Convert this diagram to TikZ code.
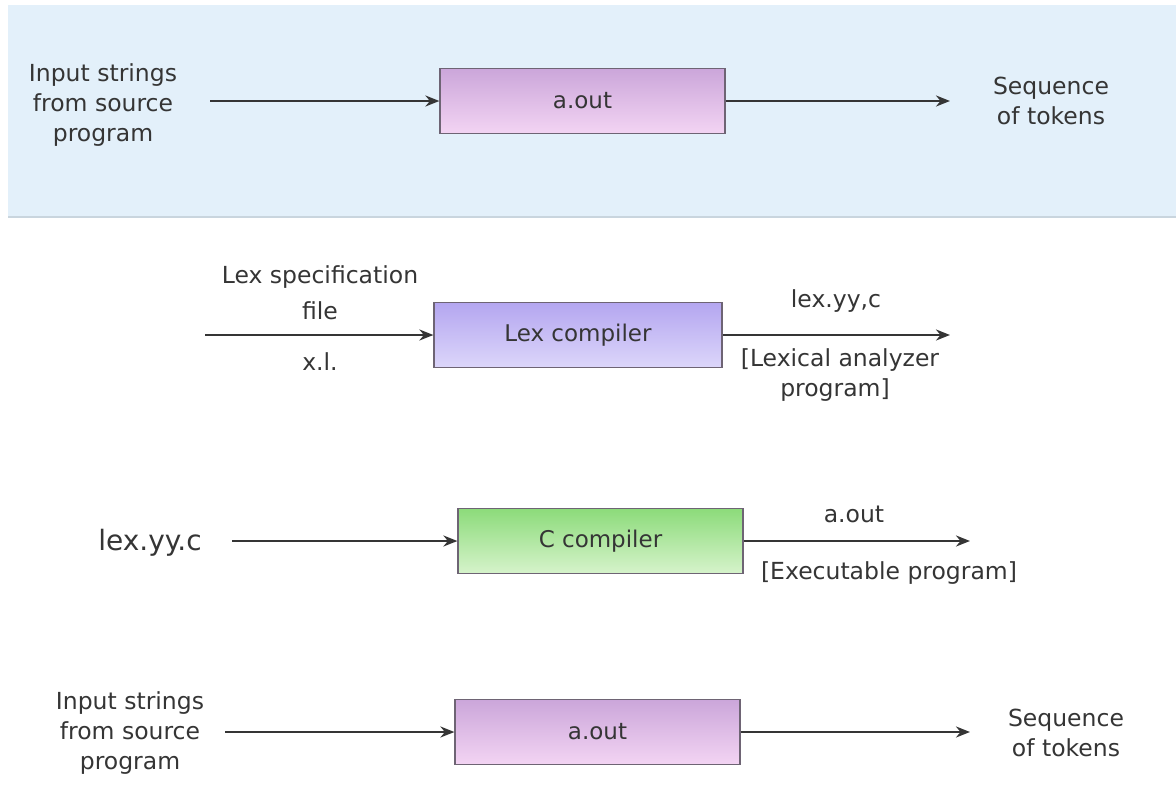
\documentclass[tikz,border=0pt]{standalone}
\usepackage{fontspec}
\setmainfont{DejaVu Sans}
\usetikzlibrary{arrows.meta}
\definecolor{band}{HTML}{E3F0FA}
\definecolor{bandline}{HTML}{C9D5DE}
\definecolor{txt}{HTML}{353535}
\definecolor{boxline}{HTML}{6E6474}
\definecolor{pinktop}{HTML}{CBA6DA}
\definecolor{pinkbot}{HTML}{F3D4F3}
\definecolor{lavtop}{HTML}{B4A6F0}
\definecolor{lavbot}{HTML}{DCD6FA}
\definecolor{greentop}{HTML}{8CDB7A}
\definecolor{greenbot}{HTML}{D6F3CB}
\tikzset{
  x=1pt,y=-1pt,
  lbl/.style={text=txt,font=\fontsize{23.5}{30}\selectfont,align=center,inner sep=0pt},
  biglbl/.style={text=txt,font=\fontsize{28}{32}\selectfont,inner sep=0pt},
  procbox/.style={draw=boxline,line width=1.2pt,minimum height=65pt,inner sep=0pt,text=txt,font=\fontsize{23}{26}\selectfont},
  flow/.style={draw=txt,line width=2.3pt,-{Stealth[length=14pt,width=11pt]}},
}
\begin{document}
\begin{tikzpicture}
\useasboundingbox (0,0) rectangle (1176,807);
\fill[white] (0,0) rectangle (1176,807);
\fill[band] (8,5) rectangle (1176,216);
\draw[bandline,line width=1.5pt] (8,217) -- (1176,217);

% Row 1
\node[procbox,minimum width=285pt,top color=pinktop,bottom color=pinkbot] (b1) at (582.5,101) {a.out};
\node[lbl] (in1) at (103,105) {Input strings\\from source\\program};
\node[lbl] (out1) at (1051,101) {Sequence\\of tokens};
\coordinate (s1) at (210,101);
\coordinate (e1) at (950,101);
\draw[flow] (s1) -- (b1.west);
\draw[flow] (b1.east) -- (e1);

% Row 2
\node[procbox,minimum width=288pt,top color=lavtop,bottom color=lavbot] (b2) at (578,335) {Lex compiler};
\coordinate (s2) at (205,335);
\coordinate (e2) at (950,335);
\draw[flow] (s2) -- (b2.west);
\draw[flow] (b2.east) -- (e2);
\node[lbl] (l2a) at (320,277) {Lex specification};
\node[lbl] (l2b) at (320,311) {file};
\node[lbl] (l2c) at (320,362) {x.l.};
\node[lbl] (r2a) at (836,301) {lex.yy,c};
\node[lbl] (r2b) at (840,360) {[Lexical analyzer};
\node[lbl] (r2c) at (835,390) {program]};

% Row 3
\node[procbox,minimum width=285pt,top color=greentop,bottom color=greenbot] (b3) at (600.5,541) {C compiler};
\node[biglbl] (in3) at (150,543) {lex.yy.c};
\coordinate (s3) at (232,541);
\coordinate (e3) at (970,541);
\draw[flow] (s3) -- (b3.west);
\draw[flow] (b3.east) -- (e3);
\node[lbl] (r3a) at (854,514) {a.out};
\node[lbl] (r3b) at (889,573) {[Executable program]};

% Row 4
\node[procbox,minimum width=285pt,top color=pinktop,bottom color=pinkbot] (b4) at (597.5,732) {a.out};
\node[lbl] (in4) at (130,733) {Input strings\\from source\\program};
\node[lbl] (out4) at (1066,733) {Sequence\\of tokens};
\coordinate (s4) at (225,732);
\coordinate (e4) at (970,732);
\draw[flow] (s4) -- (b4.west);
\draw[flow] (b4.east) -- (e4);
\end{tikzpicture}
\end{document}
